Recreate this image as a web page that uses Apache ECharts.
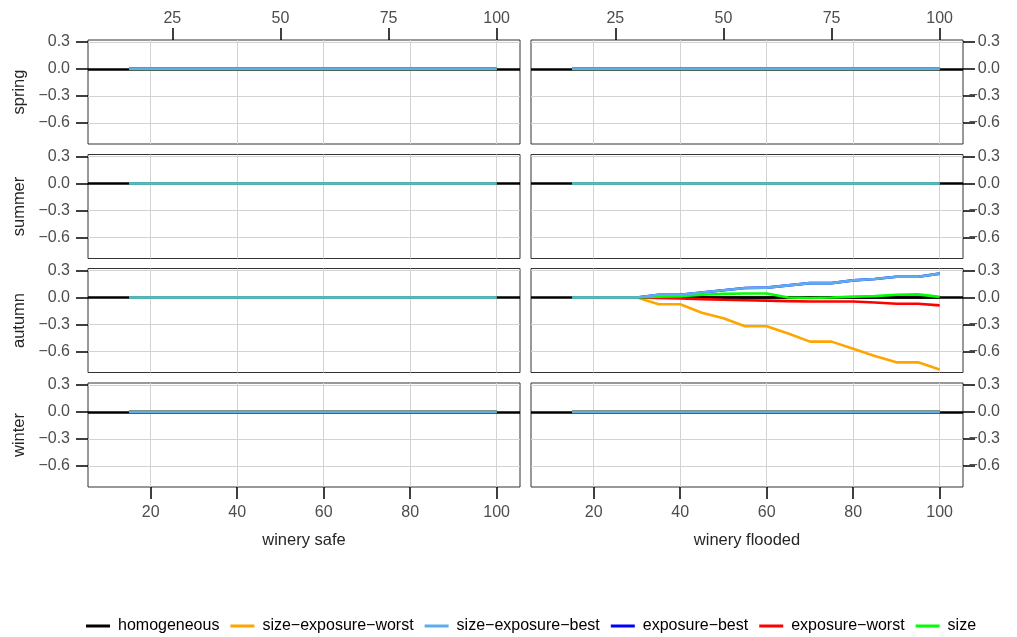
<!DOCTYPE html>
<html><head><meta charset="utf-8">
<script src="https://cdn.jsdelivr.net/npm/echarts@6/dist/echarts.min.js"></script>
<style>html,body{margin:0;padding:0;background:#fff}#chart{width:1017px;height:637px}</style>
</head><body><div id="chart"></div>
<script>
// ---- data ----
const seasons = ['spring', 'summer', 'autumn', 'winter'];
const scenarios = ['winery safe', 'winery flooded'];
const seriesNames = ['homogeneous', 'size\u2212exposure\u2212worst', 'size\u2212exposure\u2212best', 'exposure\u2212best', 'exposure\u2212worst', 'size'];
const xValues = [15, 20, 25, 30, 35, 40, 45, 50, 55, 60, 65, 70, 75, 80, 85, 90, 95, 100];
const flatValues = [0, 0, 0, 0, 0, 0, 0, 0, 0, 0, 0, 0, 0, 0, 0, 0, 0, 0];
const autumnFloodedSizeExposureWorst = [0, 0, 0, 0, -0.075, -0.075, -0.17, -0.23, -0.32, -0.32, -0.40, -0.49, -0.49, -0.57, -0.65, -0.72, -0.72, -0.80];
const autumnFloodedSizeExposureBest = [0, 0, 0, 0, 0.03, 0.03, 0.055, 0.08, 0.105, 0.11, 0.135, 0.16, 0.16, 0.19, 0.205, 0.23, 0.23, 0.265];
const autumnFloodedExposureBest = [0, 0, 0, 0, 0.03, 0.03, 0.055, 0.08, 0.105, 0.11, 0.135, 0.16, 0.16, 0.19, 0.205, 0.23, 0.23, 0.265];
const autumnFloodedExposureWorst = [0, 0, 0, 0, -0.005, -0.01, -0.018, -0.025, -0.03, -0.035, -0.04, -0.045, -0.045, -0.045, -0.055, -0.07, -0.07, -0.088];
const autumnFloodedSize = [0, 0, 0, 0, 0.01, 0.015, 0.03, 0.04, 0.045, 0.045, 0.0, -0.005, 0.0, 0.01, 0.015, 0.03, 0.035, 0.007];
const yTicks = [-0.6, -0.3, 0, 0.3];
const xBottomTicks = [20, 40, 60, 80, 100];
const xTopTicks = [25, 50, 75, 100];

// series colors
const colors = {
  'homogeneous': '#000000',
  'size\u2212exposure\u2212worst': '#FFA500',
  'size\u2212exposure\u2212best': '#5CACEE',
  'exposure\u2212best': '#0000FF',
  'exposure\u2212worst': '#FF0000',
  'size': '#00FF00'
};
// draw order (last on top)
const drawOrder = ['homogeneous', 'size\u2212exposure\u2212worst', 'exposure\u2212best', 'exposure\u2212worst', 'size', 'size\u2212exposure\u2212best'];

function valuesFor(season, scenario, name) {
  if (season === 'autumn' && scenario === 'winery flooded') {
    if (name === 'size\u2212exposure\u2212worst') return autumnFloodedSizeExposureWorst;
    if (name === 'size\u2212exposure\u2212best') return autumnFloodedSizeExposureBest;
    if (name === 'exposure\u2212best') return autumnFloodedExposureBest;
    if (name === 'exposure\u2212worst') return autumnFloodedExposureWorst;
    if (name === 'size') return autumnFloodedSize;
  }
  return flatValues;
}

// ---- layout ----
const colLeft = [88, 531];
const colWidth = 432;
const rowTop = [40, 154.5, 268.5, 383];
const rowHeight = 104;
const xMin = 5.5, xMax = 105.4;
const yMin = -0.833, yMax = 0.322;
const labelColor = '#4D4D4D';
const fontFamily = 'Liberation Sans, Arial, sans-serif';
const tickStyle = { color: '#000', width: 1.5 };

const fmtY = v => (v < 0 ? '\u2212' : '') + Math.abs(v).toFixed(1);

const grids = [], xAxes = [], yAxes = [], series = [];
let gi = 0;
seasons.forEach((season, r) => {
  scenarios.forEach((scenario, c) => {
    grids.push({
      left: colLeft[c], top: rowTop[r], width: colWidth, height: rowHeight,
      show: true, borderColor: '#333333', borderWidth: 1, backgroundColor: '#fff'
    });
    const bottomIdx = xAxes.length;
    xAxes.push({
      type: 'value', gridIndex: gi, position: 'bottom', min: xMin, max: xMax,
      axisLine: { show: false, onZero: false },
      axisTick: { show: r === 3, customValues: xBottomTicks, length: 12, lineStyle: tickStyle },
      axisLabel: { show: r === 3, customValues: xBottomTicks, color: labelColor, fontSize: 16, fontFamily, margin: 18 },
      splitLine: { show: true, lineStyle: { color: '#D3D3D3', width: 1 } },
      name: r === 3 ? scenario : '', nameLocation: 'middle', nameGap: 45,
      nameTextStyle: { color: '#262626', fontSize: 16.5, fontFamily }
    });
    if (r === 0) {
      xAxes.push({
        type: 'value', gridIndex: gi, position: 'top', min: xMin, max: xMax,
        axisLine: { show: false, onZero: false },
        axisTick: { show: true, customValues: xTopTicks, length: 12, lineStyle: tickStyle },
        axisLabel: { show: true, customValues: xTopTicks, color: labelColor, fontSize: 16, fontFamily, margin: 13 },
        splitLine: { show: false }
      });
    }
    yAxes.push({
      type: 'value', gridIndex: gi, position: c === 0 ? 'left' : 'right', min: yMin, max: yMax,
      axisLine: { show: false, onZero: false },
      axisTick: { show: true, customValues: yTicks, length: 12, lineStyle: tickStyle },
      axisLabel: {
        show: true, customValues: yTicks, color: labelColor, fontSize: 16, fontFamily,
        margin: c === 0 ? 18 : 37, align: 'right', formatter: fmtY
      },
      splitLine: { show: true, lineStyle: { color: '#D3D3D3', width: 1 } },
      name: c === 0 ? season : '', nameLocation: 'middle', nameRotate: 90, nameGap: 60,
      nameTextStyle: { color: '#262626', fontSize: 16.5, fontFamily }
    });
    drawOrder.forEach((name, k) => {
      const vals = valuesFor(season, scenario, name);
      const s = {
        type: 'line', name, xAxisIndex: bottomIdx, yAxisIndex: gi,
        data: xValues.map((x, i) => [x, vals[i]]),
        showSymbol: false, symbol: 'none', silent: true,
        lineStyle: { color: colors[name], width: 2.6 },
        itemStyle: { color: colors[name] },
        z: 2 + k
      };
      if (name === 'homogeneous') {
        s.markLine = {
          silent: true, symbol: ['none', 'none'], label: { show: false },
          lineStyle: { color: '#000', width: 2.6, type: 'solid' },
          data: [{ yAxis: vals[0] }]
        };
      }
      series.push(s);
    });
    gi++;
  });
});

const chart = echarts.init(document.getElementById('chart'), null, { renderer: 'canvas' });
chart.setOption({
  animation: false,
  backgroundColor: '#ffffff',
  textStyle: { fontFamily },
  grid: grids, xAxis: xAxes, yAxis: yAxes, series,
  legend: {
    data: seriesNames, top: 618, left: 86, padding: 0,
    icon: 'rect', itemWidth: 24, itemHeight: 3, itemGap: 11,
    textStyle: { color: '#000', fontSize: 16, fontFamily, padding: [0, 0, 0, 3] },
    selectedMode: false
  }
});
</script>
</body></html>
